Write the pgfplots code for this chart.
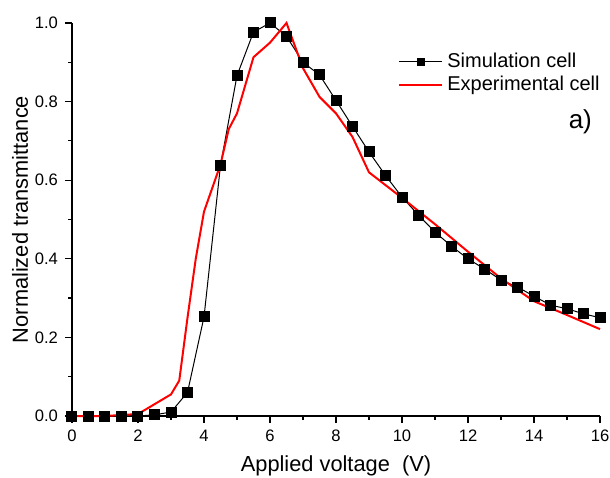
\documentclass[border=0pt]{standalone}
\usepackage{pgfplots}
\pgfplotsset{compat=1.18}
\usepackage{fontspec}
\setmainfont{Liberation Sans}
\begin{document}
\begin{tikzpicture}
\useasboundingbox (0,0) rectangle (305pt,238.5pt);
\begin{axis}[
  at={(36pt,30.5pt)}, anchor=south west,
  scale only axis=true, width=264pt, height=196.5pt,
  xmin=0, xmax=16, ymin=0, ymax=1,
  axis x line*=bottom, axis y line*=left,
  axis line style={line width=0.75pt, -},
  tick align=outside,
  major tick length=3.5pt, minor tick length=1.75pt,
  every tick/.style={line width=0.6pt, black},
  xtick={0,2,...,16}, ytick={0,0.2,...,1.0},
  minor x tick num=1, minor y tick num=1,
  /pgf/number format/assume math mode=true,
  xticklabel style={font=\fontsize{8.3}{10}\selectfont},
  yticklabel style={font=\fontsize{8.3}{10}\selectfont, /pgf/number format/.cd, fixed, fixed zerofill, precision=1},
  xlabel={Applied voltage\ \ (V)},
  ylabel={Normalized transmittance},
  every axis x label/.style={at={(axis description cs:0.5,-0.126)}, anchor=center, font=\fontsize{10.9}{13}\selectfont},
  every axis y label/.style={at={(axis description cs:-0.0985,0.5)}, anchor=center, rotate=90, font=\fontsize{10.9}{13}\selectfont},
  clip=false,
  legend style={draw=none, fill=none, at={(axis description cs:0.606,0.945)}, anchor=north west,
    font=\fontsize{10}{12}\selectfont, row sep=-1.2pt},
  legend cell align=left,
  legend image code/.code={\draw[mark repeat=2,mark phase=2,#1] plot coordinates {(0pt,0pt) (10.75pt,0pt) (21.5pt,0pt)};},
]
\addplot[black, line width=0.5pt, mark=square*, mark size=2.5pt, mark options={solid, fill=black},
  legend image post style={mark size=1.75pt}]
coordinates {
(0,0) (0.5,0) (1,0) (1.5,0) (2,0) (2.5,0.003) (3,0.01) (3.5,0.06) (4,0.252) (4.5,0.638)
(5,0.866) (5.5,0.977) (6,1.0) (6.5,0.966) (7,0.90) (7.5,0.868) (8,0.803) (8.5,0.737)
(9,0.672) (9.5,0.612) (10,0.557) (10.5,0.511) (11,0.468) (11.5,0.432) (12,0.40)
(12.5,0.374) (13,0.346) (13.5,0.328) (14,0.305) (14.5,0.282) (15,0.273) (15.5,0.26) (16,0.25)
};
\addlegendentry{Simulation cell}
\addplot[red, line width=1pt, no marks]
coordinates {
(0,0) (1,0) (2,0.005) (3,0.055) (3.25,0.09) (3.5,0.25) (3.75,0.40) (4,0.52) (4.5,0.64)
(4.75,0.73) (5,0.77) (5.5,0.913) (6,0.95) (6.5,1.0) (7,0.885) (7.5,0.812) (8,0.77)
(8.5,0.71) (9,0.62) (10,0.555) (11,0.488) (12,0.418) (13,0.35) (14,0.292) (15,0.257) (16,0.221)
};
\addlegendentry{Experimental cell}
\node[font=\fontsize{13}{15}\selectfont, anchor=east] at (axis description cs:0.998,0.748) {a)};
\end{axis}
\end{tikzpicture}
\end{document}
